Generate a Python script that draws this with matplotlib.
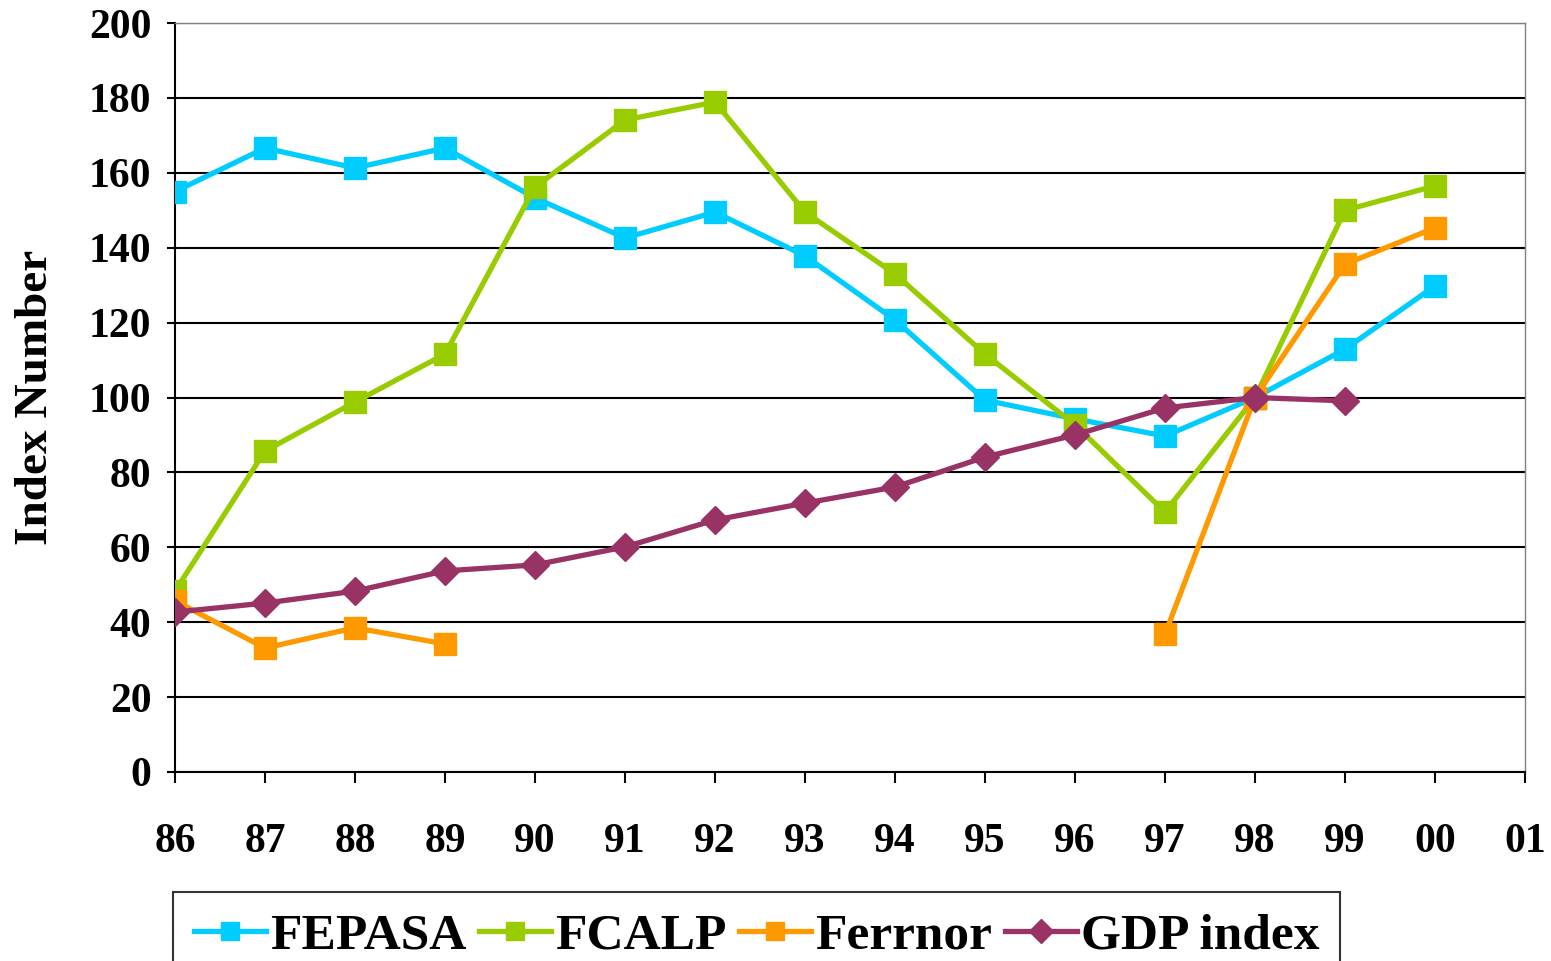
import matplotlib
matplotlib.use("Agg")
import matplotlib.pyplot as plt
import numpy as np

plt.rcParams['font.family'] = ['Liberation Serif', 'DejaVu Serif']
plt.rcParams['font.weight'] = 'bold'

# years 86..01 -> positions 0..15
years = ['86', '87', '88', '89', '90', '91', '92', '93', '94', '95', '96', '97', '98', '99', '00', '01']

fepasa = [155, 166.6, 161.3, 166.6, 153.3, 142.6, 149.5, 137.8, 120.7, 99.3, 94.3, 89.7, 100, 112.9, 129.8]
fcalp = [48.3, 85.7, 98.8, 111.6, 156.2, 174.1, 178.9, 149.5, 133, 111.6, 92.7, 69.4, 100, 150, 156.5]
ferrnor = [45.7, 33.1, 38.5, 34.2, None, None, None, None, None, None, None, 36.8, 100, 135.6, 145.3]
gdp = [42.7, 45.1, 48.3, 53.7, 55.3, 60.1, 67.3, 71.8, 76.1, 84.1, 90, 97.2, 100, 99.1]

fig = plt.figure(figsize=(15.51, 9.61), dpi=100)
ax = fig.add_axes([175 / 1551, 1 - 772 / 961, 1350 / 1551, 749 / 961])

def arr(v):
    return np.array([np.nan if x is None else x for x in v], dtype=float)

ax.plot(np.arange(len(fepasa)), arr(fepasa), color='#00CCFF', lw=3.8, marker='s', ms=16, label='FEPASA', zorder=3)
ax.plot(np.arange(len(fcalp)), arr(fcalp), color='#99CC00', lw=3.8, marker='s', ms=16, label='FCALP', zorder=3)
ax.plot(np.arange(len(ferrnor)), arr(ferrnor), color='#FF9900', lw=3.8, marker='s', ms=16, label='Ferrnor', zorder=3)
ax.plot(np.arange(len(gdp)), arr(gdp), color='#993366', lw=3.8, marker='D', ms=14, label='GDP index', zorder=4)

ax.set_xlim(0, 15)
ax.set_ylim(0, 200)
ax.set_yticks(np.arange(0, 201, 20))
ax.set_xticks(np.arange(16))
ax.set_xticklabels(years)
ax.yaxis.grid(True, color='black', lw=1.5)
ax.set_axisbelow(True)
ax.tick_params(axis='x', direction='out', length=8, width=1.5, pad=29, labelsize=30)
ax.tick_params(axis='y', direction='out', length=6, width=1.5, pad=11, labelsize=30)
for s in ['left', 'bottom']:
    ax.spines[s].set_linewidth(1.5)
for s in ['top', 'right']:
    ax.spines[s].set_linewidth(1.0)
    ax.spines[s].set_color('#808080')
ax.set_ylabel('Index Number', fontsize=34, fontweight='bold', labelpad=23)

leg = fig.legend(loc='upper left', bbox_to_anchor=(173 / 1551, 1 - 892 / 961), ncol=4, fontsize=37,
                 frameon=True, fancybox=False, edgecolor='black', handlelength=1.4,
                 handletextpad=0.08, columnspacing=0.25, borderpad=0.4, borderaxespad=0,
                 markerscale=0.85)
leg.get_frame().set_linewidth(1.5)

fig.savefig('out.png', dpi=100)
